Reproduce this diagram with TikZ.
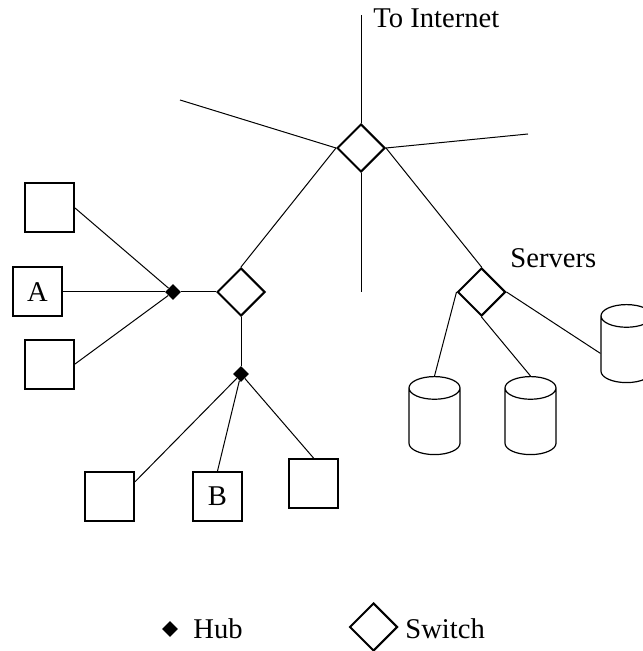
\documentclass[tikz,border=0pt]{standalone}
\usepackage{fontspec}
\setmainfont{Liberation Serif}
\usetikzlibrary{shapes.geometric}
\tikzset{
  switch/.style={diamond, draw, line width=1pt, minimum size=24pt, inner sep=0pt},
  hub/.style={diamond, fill=black, minimum size=8pt, inner sep=0pt},
  host/.style={rectangle, draw, line width=1pt, minimum size=24.5pt, inner sep=0pt, font=\fontsize{14.3}{16}\selectfont},
  server/.style={cylinder, shape border rotate=90, draw, line width=0.6pt, minimum height=39pt, minimum width=25.5pt, aspect=1.7, anchor=north},
  link/.style={line width=0.5pt},
  lab/.style={font=\fontsize{14.3}{16}\selectfont, inner sep=0pt}
}

\begin{document}
\begin{tikzpicture}[x=0.5pt, y=-0.5pt]
  \useasboundingbox (0,0) rectangle (642,651);

  % switches and hubs
  \node[switch] (swTop) at (361,148) {};
  \node[switch] (swMid) at (241,292) {};
  \node[switch] (swSrv) at (481.5,292) {};
  \node[hub] (hubL) at (173,292) {};
  \node[hub] (hubB) at (241,374) {};

  % hosts
  \node[host] (hostT) at (49.5,208) {};
  \node[host] (hostA) at (37.5,292) {A};
  \node[host] (hostD) at (49.5,364) {};
  \node[host] (hostBL) at (109.5,496.5) {};
  \node[host] (hostB) at (217.5,496.5) {B};
  \node[host] (hostBR) at (313.5,483.5) {};

  % servers (placed by their top)
  \node[server] (srvL) at (434.5,376) {};
  \node[server] (srvM) at (530.5,376) {};
  \node[server] (srvR) at (626.5,304) {};

  % free ends
  \coordinate (inet) at (361,15);
  \coordinate (endW) at (180,100);
  \coordinate (endE) at (528,134);
  \coordinate (endS) at (361,292);

  \draw[link] (swTop.north) -- (inet);
  \draw[link] (swTop.west) -- (endW);
  \draw[link] (swTop.east) -- (endE);
  \draw[link] (swTop.south) -- (endS);
  \draw[link] (swTop.west) -- (swMid.north);
  \draw[link] (swTop.east) -- (swSrv.north);

  \draw[link] (hubL) -- (swMid.west);
  \draw[link] (hubL) -- (hostT.east);
  \draw[link] (hubL) -- (hostA.east);
  \draw[link] (hubL) -- (hostD.east);

  \draw[link] (swMid.south) -- (hubB);
  \draw[link] (hubB) -- (hostBL.30);
  \draw[link] (hubB) -- (hostB.north);
  \draw[link] (hubB) -- (hostBR.north);

  \draw[link] (swSrv.west) -- (srvL.north);
  \draw[link] (swSrv.south) -- (srvM.north);
  \draw[link] (swSrv.east) -- (srvR.west);

  % labels
  \node[lab, anchor=base west] (lInet) at (373,28) {To Internet};
  \node[lab, anchor=base west] (lSrv) at (510,268) {Servers};

  % legend
  \node[hub] (legHub) at (170,629) {};
  \node[lab, anchor=west] (lHub) at (193,629) {Hub};
  \node[switch] (legSw) at (373.5,627) {};
  \node[lab, anchor=west] (lSw) at (405,629) {Switch};
\end{tikzpicture}
\end{document}
